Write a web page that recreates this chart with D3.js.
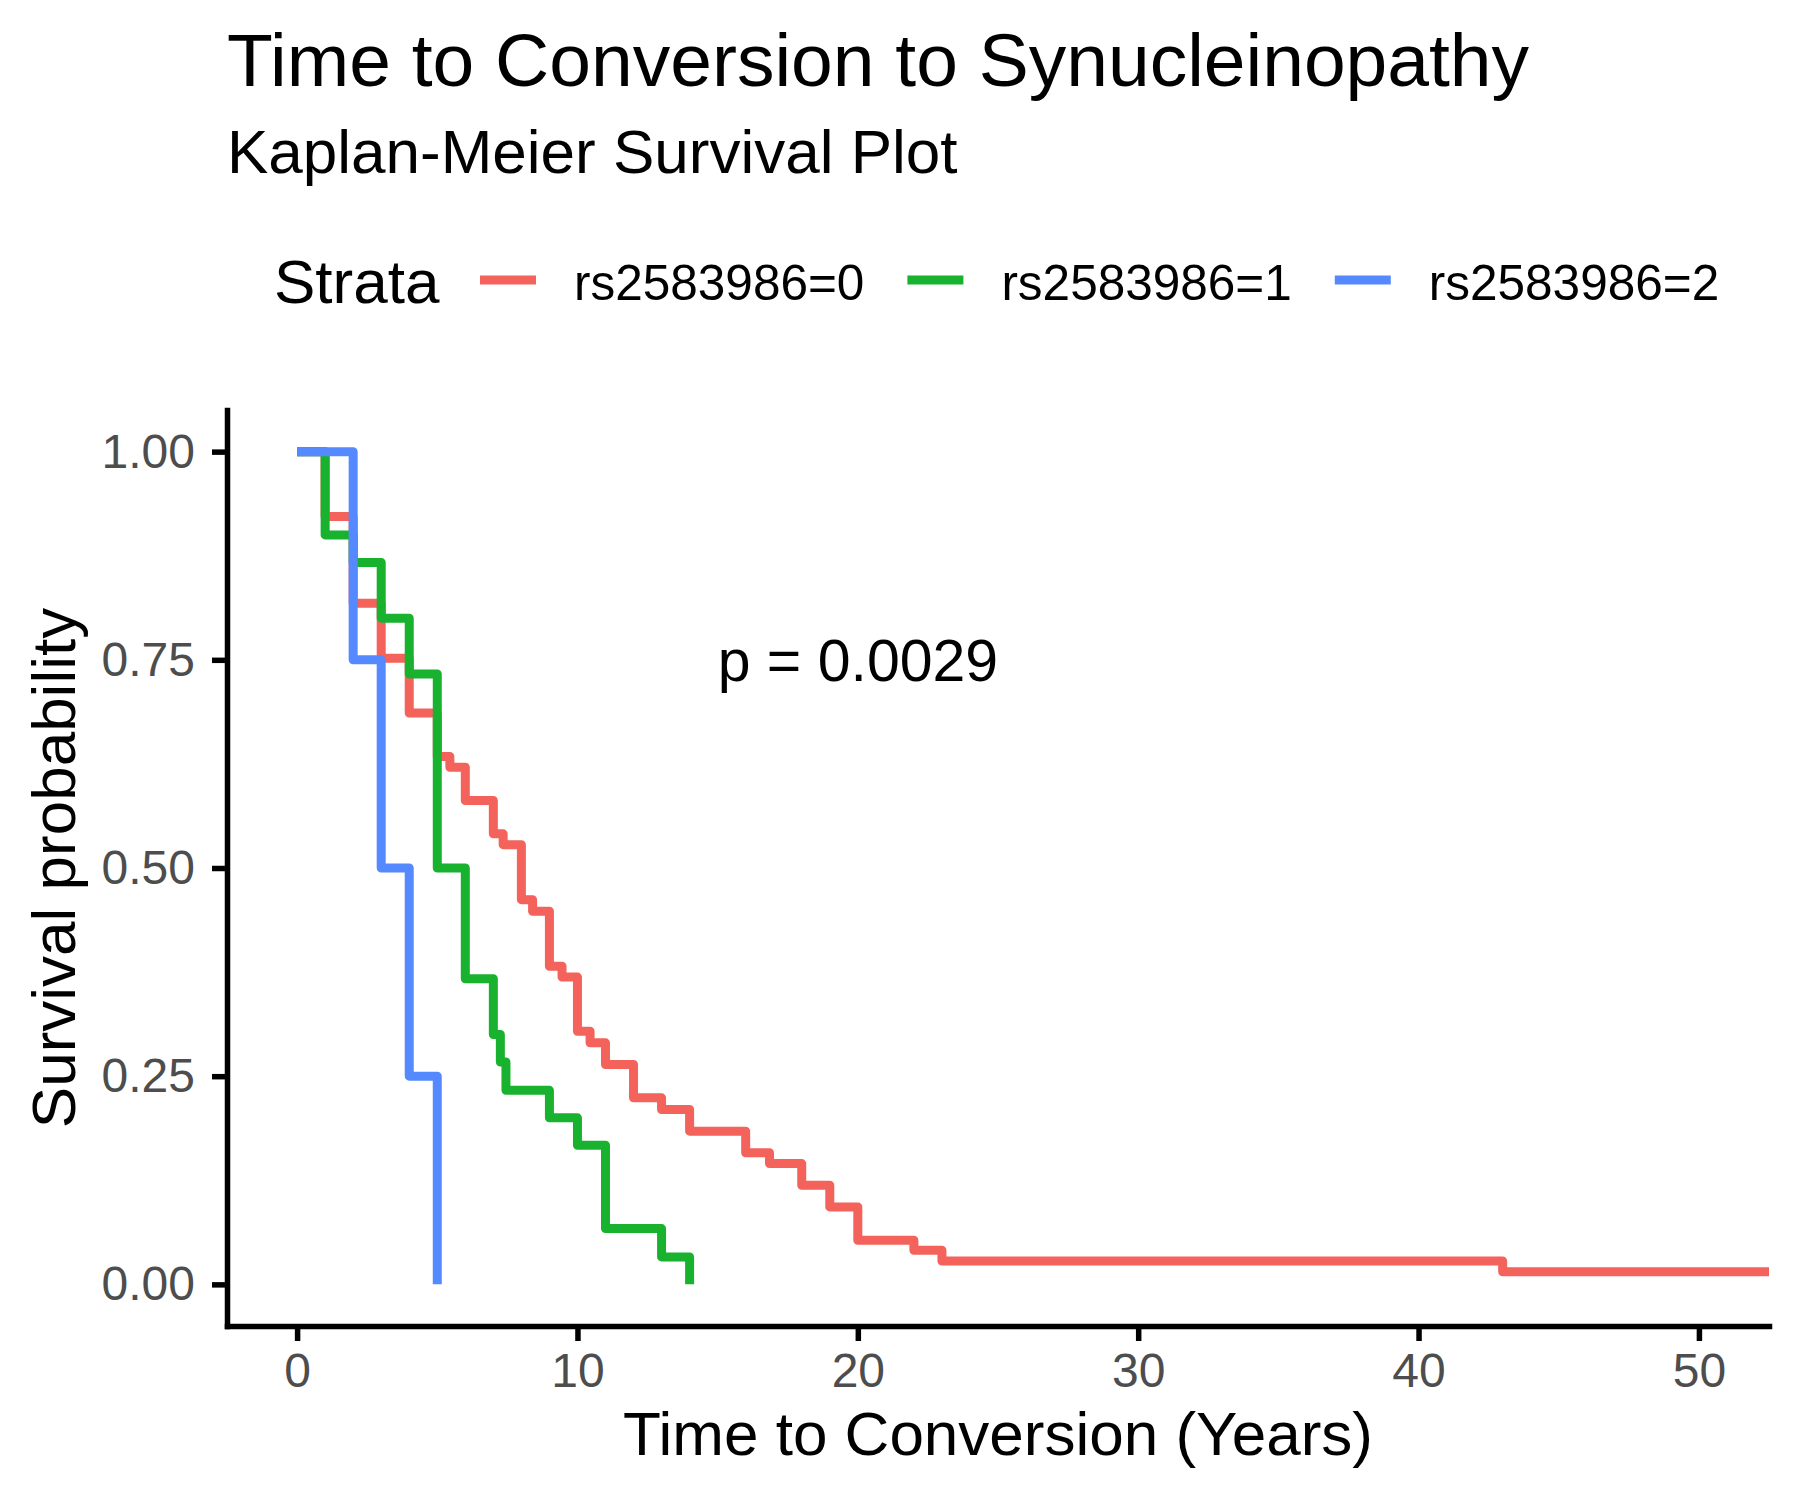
<!DOCTYPE html>
<html>
<head>
<meta charset="utf-8">
<script src="https://cdn.jsdelivr.net/npm/d3@7"></script>
<style>
    body { margin: 0; background: #fff; }
    svg text { font-family: "Liberation Sans", Arial, sans-serif; }
</style>
</head>
<body>
<div id="chart"></div>
<script>
// survival curves (time in years, survival probability)
const strata = ["rs2583986=0", "rs2583986=1", "rs2583986=2"];
const colors = ["#F4625C", "#19B22F", "#5489FF"];

const timesG0 = [0, 1, 2, 3, 4, 5, 5.45, 6, 7, 7.35, 8, 8.4, 9, 9.45, 10, 10.45, 11, 12, 13, 14, 16, 16.85, 18, 19, 20, 22, 23, 43, 56];
const survG0  = [1, 0.922, 0.818, 0.752, 0.686, 0.634, 0.621, 0.581, 0.541, 0.528, 0.462, 0.448, 0.382, 0.369, 0.304, 0.290, 0.264, 0.224, 0.210, 0.184, 0.158, 0.145, 0.119, 0.093, 0.053, 0.041, 0.028, 0.015, 0.015];

const timesG1 = [0, 1, 2, 3, 4, 5, 6, 7, 7.25, 7.45, 9, 10, 11, 13, 14];
const survG1  = [1, 0.9, 0.867, 0.8, 0.733, 0.5, 0.367, 0.3, 0.267, 0.233, 0.2, 0.167, 0.067, 0.033, 0];

const timesG2 = [0, 2, 3, 4, 5];
const survG2  = [1, 0.75, 0.5, 0.25, 0];

const xTicks = [0, 10, 20, 30, 40, 50];
const yTicks = [0, 0.25, 0.5, 0.75, 1];
const pLabel = "p = 0.0029";
const pPos = [15, 0.75];

//set svg size and panel edges
let w = 1800;
let h = 1500;
let padLeft = 227, padRight = 1769, padTop = 410, padBottom = 1326;

let svg = d3.select("#chart")
            .append("svg")
            .attr("width", w)
            .attr("height", h);

let xScale = d3.scaleLinear()
                .domain([-2.5, 52.5])
                .range([padLeft, padRight]);

let yScale = d3.scaleLinear()
                .domain([-0.05, 1.05])
                .range([padBottom, padTop]);

//clip the curves to the panel
svg.append("clipPath")
    .attr("id", "panel")
    .append("rect")
    .attr("x", padLeft)
    .attr("y", padTop)
    .attr("width", padRight - padLeft)
    .attr("height", padBottom - padTop);

let series = [
    timesG0.map((t, i) => ({ t: t, s: survG0[i] })),
    timesG1.map((t, i) => ({ t: t, s: survG1[i] })),
    timesG2.map((t, i) => ({ t: t, s: survG2[i] }))
];

let line = d3.line()
                .x(d => xScale(d.t))
                .y(d => yScale(d.s))
                .curve(d3.curveStepAfter);

svg.append("g")
    .attr("clip-path", "url(#panel)")
    .selectAll("path")
    .data(series)
    .enter()
    .append("path")
    .attr("d", line)
    .attr("fill", "none")
    .attr("stroke", (d, i) => colors[i])
    .attr("stroke-width", 9)
    .attr("stroke-linejoin", "round");

//axes
let xAxis = d3.axisBottom(xScale)
                .tickValues(xTicks)
                .tickSize(15)
                .tickSizeOuter(0)
                .tickPadding(12);

let yAxis = d3.axisLeft(yScale)
                .tickValues(yTicks)
                .tickFormat(d3.format(".2f"))
                .tickSize(15)
                .tickSizeOuter(0)
                .tickPadding(17);

let gx = svg.append("g")
            .attr("transform", `translate(0, ${padBottom})`)
            .call(xAxis);

let gy = svg.append("g")
            .attr("transform", `translate(${padLeft}, 0)`)
            .call(yAxis);

[gx, gy].forEach(g => {
    g.select(".domain").attr("stroke", "#000").attr("stroke-width", 5.5).attr("stroke-linecap", "square");
    g.selectAll(".tick line").attr("stroke", "#000").attr("stroke-width", 5.5);
    g.selectAll(".tick text")
        .attr("font-size", "48px")
        .attr("fill", "#4D4D4D")
        .style("font-family", "'Liberation Sans', Arial, sans-serif");
});

//axis titles
svg.append("text")
    .attr("x", (padLeft + padRight) / 2)
    .attr("y", 1455)
    .attr("text-anchor", "middle")
    .attr("font-size", "62px")
    .text("Time to Conversion (Years)");

svg.append("text")
    .attr("transform", `translate(75, ${(padTop + padBottom) / 2}) rotate(-90)`)
    .attr("text-anchor", "middle")
    .attr("font-size", "62px")
    .text("Survival probability");

//p value
svg.append("text")
    .attr("x", xScale(pPos[0]))
    .attr("y", yScale(pPos[1]))
    .attr("dy", "0.36em")
    .attr("font-size", "59px")
    .text(pLabel);

//title and subtitle
svg.append("text")
    .attr("x", padLeft)
    .attr("y", 86)
    .attr("font-size", "75px")
    .text("Time to Conversion to Synucleinopathy");

svg.append("text")
    .attr("x", padLeft)
    .attr("y", 173)
    .attr("font-size", "62px")
    .text("Kaplan-Meier Survival Plot");

//legend on top
let legend = svg.append("g");
let legendTitle = legend.append("text")
                    .attr("x", 274)
                    .attr("y", 303)
                    .attr("font-size", "62px")
                    .text("Strata");

let keyLen = 56;
let cursor = 480;
strata.forEach((s, i) => {
    legend.append("line")
        .attr("x1", cursor)
        .attr("x2", cursor + keyLen)
        .attr("y1", 280)
        .attr("y2", 280)
        .attr("stroke", colors[i])
        .attr("stroke-width", 9);
    let label = legend.append("text")
                    .attr("x", cursor + keyLen + 38)
                    .attr("y", 300)
                    .attr("font-size", "49.5px")
                    .text(s);
    cursor += keyLen + 38 + label.node().getComputedTextLength() + 43;
});
</script>
</body>
</html>
